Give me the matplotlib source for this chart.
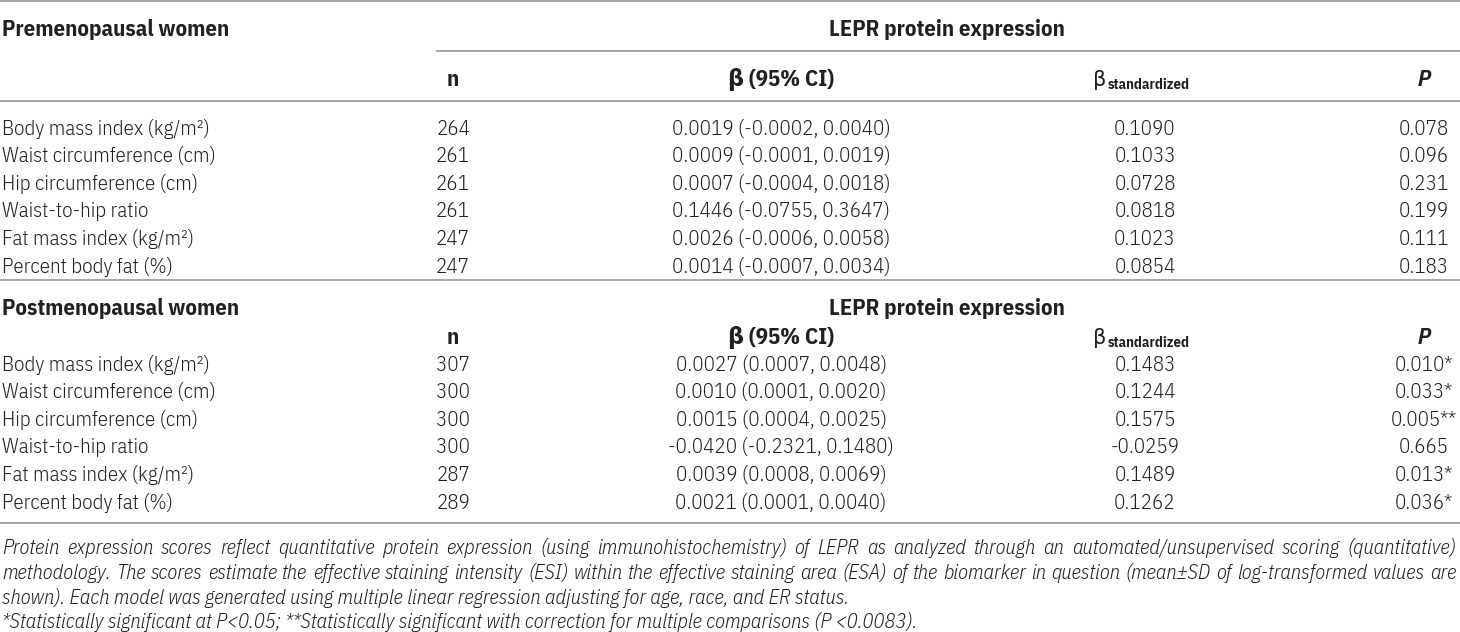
import matplotlib
matplotlib.use("Agg")
import matplotlib.pyplot as plt
from matplotlib import font_manager

# ---- table data -------------------------------------------------------
measures = [
    "Body mass index (kg/m²)",
    "Waist circumference (cm)",
    "Hip circumference (cm)",
    "Waist-to-hip ratio",
    "Fat mass index (kg/m²)",
    "Percent body fat (%)",
]

pre_n = [264, 261, 261, 261, 247, 247]
pre_beta = [0.0019, 0.0009, 0.0007, 0.1446, 0.0026, 0.0014]
pre_lo = [-0.0002, -0.0001, -0.0004, -0.0755, -0.0006, -0.0007]
pre_hi = [0.0040, 0.0019, 0.0018, 0.3647, 0.0058, 0.0034]
pre_std = [0.1090, 0.1033, 0.0728, 0.0818, 0.1023, 0.0854]
pre_p = [0.078, 0.096, 0.231, 0.199, 0.111, 0.183]
pre_stars = ["", "", "", "", "", ""]

post_n = [307, 300, 300, 300, 287, 289]
post_beta = [0.0027, 0.0010, 0.0015, -0.0420, 0.0039, 0.0021]
post_lo = [0.0007, 0.0001, 0.0004, -0.2321, 0.0008, 0.0001]
post_hi = [0.0048, 0.0020, 0.0025, 0.1480, 0.0069, 0.0040]
post_std = [0.1483, 0.1244, 0.1575, -0.0259, 0.1489, 0.1262]
post_p = [0.010, 0.033, 0.005, 0.665, 0.013, 0.036]
post_stars = ["*", "*", "**", "", "*", "*"]

group_titles = ["Premenopausal women", "Postmenopausal women"]
span_title = "LEPR protein expression"

footnote_lines = [
    "Protein expression scores reflect quantitative protein expression (using immunohistochemistry) of LEPR as analyzed through an automated/unsupervised scoring (quantitative)",
    "methodology. The scores estimate the effective staining intensity (ESI) within the effective staining area (ESA) of the biomarker in question (mean±SD of log-transformed values are",
    "shown). Each model was generated using multiple linear regression adjusting for age, race, and ER status.",
    "*Statistically significant at P<0.05; **Statistically significant with correction for multiple comparisons (P <0.0083).",
]
footnote_justify = [True, True, False, False]


# ---- font: pick a narrow sans that has regular, bold and italic faces ---
def weight_of(f):
    return int(f.weight) if str(f.weight).isdigit() else 400


def pick_family():
    faces = {}
    for f in font_manager.fontManager.ttflist:
        faces.setdefault(f.name, []).append(f)
    wanted = ["Nimbus Sans Narrow", "Liberation Sans Narrow", "Arial Narrow",
              "IBM Plex Sans Condensed", "Roboto Condensed", "Fira Sans Condensed",
              "Barlow Semi Condensed", "Asap Condensed"]
    for name in wanted:
        fl = faces.get(name, [])
        has_reg = any(f.style == "normal" and 350 <= weight_of(f) <= 450 for f in fl)
        has_bold = any(f.style == "normal" and weight_of(f) >= 600 for f in fl)
        has_it = any(f.style in ("italic", "oblique") for f in fl)
        if has_reg and has_bold and has_it:
            light = any(weight_of(f) == 300 and f.style == "normal" for f in fl) and \
                any(weight_of(f) == 300 and f.style == "italic" for f in fl)
            return name, "normal", (300 if light else 400)
    return "DejaVu Sans", "condensed", 400


FAMILY, STRETCH, BODY_W = pick_family()
plt.rcParams["font.family"] = [FAMILY, "DejaVu Sans"]
plt.rcParams["font.stretch"] = STRETCH

W, H = 1460, 632
TEXT = "#231f20"
RULE = "#a0a0a0"

X_LABEL = 2
X_N = 453
X_BETA = 781
X_STD_LEFT = 1093
X_STD = 1145
X_P = 1424
X_SPAN = 947
X_SUB = 436

fig = plt.figure(figsize=(W / 100, H / 100), dpi=100)
ax = fig.add_axes([0, 0, 1, 1])
ax.set_xlim(0, W)
ax.set_ylim(H, 0)
ax.axis("off")
fig.canvas.draw()
renderer = fig.canvas.get_renderer()


def text_width(s, size, **kw):
    t = ax.text(0, 0, s, fontsize=size, **kw)
    w = t.get_window_extent(renderer).width
    t.remove()
    return w


# scale the sizes so the text runs as wide as in the reference
FS = 16.0 * 218 / text_width("0.0019 (-0.0002, 0.0040)", 16.0, fontweight=BODY_W)
FS_B = 16.0 * 237 / text_width("Postmenopausal women", 16.0, fontweight="bold")
FS_F = 14.0 * 1440 / text_width(footnote_lines[1], 14.0, fontstyle="italic", fontweight=BODY_W)
CAP = 0.72 * 100 / 72  # cap height in px per point


def put(x, yc, s, size, ha="center", **kw):
    # yc is the visual middle of the capitals
    kw.setdefault("fontweight", BODY_W)
    ax.text(x, yc + CAP * size / 2, s, ha=ha, va="baseline", fontsize=size, color=TEXT, **kw)


def rule(y, x0=0, x1=W):
    ax.plot([x0, x1], [y, y], color=RULE, lw=1.3, solid_capstyle="butt")


def col_header(y):
    put(X_N, y, "n", FS_B, fontweight="bold")
    put(X_BETA, y, "β (95% CI)", FS_B, fontweight="bold")
    put(X_STD_LEFT, y, "β", FS, ha="left")
    bw = text_width("β", FS, fontweight=BODY_W)
    put(X_STD_LEFT + bw + 1, y + 6, "standardized", FS * 0.7, ha="left", fontweight="bold")
    put(X_P, y, "P", FS_B, fontweight="bold", fontstyle="italic")


def body(y0, step, n, beta, lo, hi, std, p, stars):
    for i in range(len(measures)):
        y = y0 + i * step
        put(X_LABEL, y, measures[i], FS, ha="left")
        put(X_N, y, str(n[i]), FS)
        put(X_BETA, y, f"{beta[i]:.4f} ({lo[i]:.4f}, {hi[i]:.4f})", FS)
        put(X_STD, y, f"{std[i]:.4f}", FS)
        put(X_P, y, f"{p[i]:.3f}{stars[i]}", FS)


# premenopausal block
rule(1)
put(X_LABEL, 28, group_titles[0], FS_B, ha="left", fontweight="bold")
put(X_SPAN, 28, span_title, FS_B, fontweight="bold")
rule(51, X_SUB, W)
col_header(78)
rule(101)
body(127, 27.6, pre_n, pre_beta, pre_lo, pre_hi, pre_std, pre_p, pre_stars)
rule(280)

# postmenopausal block
put(X_LABEL, 307, group_titles[1], FS_B, ha="left", fontweight="bold")
put(X_SPAN, 307, span_title, FS_B, fontweight="bold")
col_header(336)
body(363, 27.6, post_n, post_beta, post_lo, post_hi, post_std, post_p, post_stars)
rule(523)

# footnotes, first two lines justified to the full width
for k, line in enumerate(footnote_lines):
    y = 547 + k * 24.7
    if not footnote_justify[k]:
        put(X_LABEL, y, line, FS_F, ha="left", fontstyle="italic")
        continue
    words = line.split(" ")
    widths = [text_width(w, FS_F, fontstyle="italic", fontweight=BODY_W) for w in words]
    gap = (W - 4 - X_LABEL - sum(widths)) / (len(words) - 1)
    x = X_LABEL
    for w, wd in zip(words, widths):
        put(x, y, w, FS_F, ha="left", fontstyle="italic")
        x += wd + gap

fig.savefig("out.png", dpi=100)
